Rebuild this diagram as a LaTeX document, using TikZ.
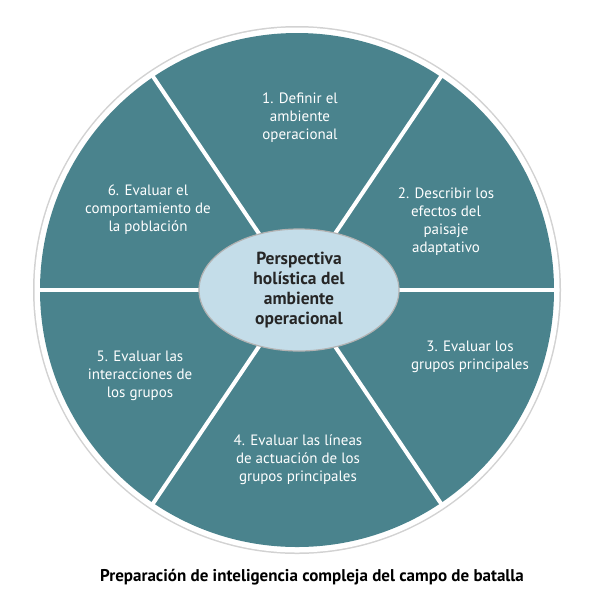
\documentclass[tikz,border=0pt]{standalone}
\usepackage{fontspec}
\setmainfont{PT Sans}
\usetikzlibrary{shapes.geometric}
\definecolor{teal1}{HTML}{4A838D}
\definecolor{lblue}{HTML}{C4DDE9}
\begin{document}
\begin{tikzpicture}[x=1pt,y=-1pt,
  lbl/.style={text=white,align=center,font=\fontsize{15}{18}\selectfont},
  divider/.style={white,line width=4pt}]
\useasboundingbox (0,0) rectangle (612,598);
\coordinate (c) at (297,290);
\fill[gray!35] (c) circle (264);
\fill[white] (c) circle (262.5);
\fill[teal1] (c) circle (257);
\foreach \a in {0,56,124,180,236,304}
  \draw[divider] (c) -- ++(\a:-259);
\node[ellipse,draw=gray!60,line width=1.2pt,fill=lblue,minimum width=200pt,minimum height=122pt,
  align=center,font=\bfseries\fontsize{17.5}{20}\selectfont,text=black!85] (hub) at (299,290)
  {Perspectiva\\holística del\\ambiente\\operacional};
\node[lbl] (s1) at (300,118) {1. Definir el\\ambiente\\operacional};
\node[lbl] (s2) at (446,222) {2. Describir los\\efectos del\\paisaje\\adaptativo};
\node[lbl] (s3) at (470,357) {3. Evaluar los\\grupos principales};
\node[lbl] (s4) at (298,460) {4. Evaluar las líneas\\de actuación de los\\grupos principales};
\node[lbl] (s5) at (140,376) {5. Evaluar las\\interacciones de\\los grupos};
\node[lbl] (s6) at (148,210) {6. Evaluar el\\comportamiento de\\la población};
\node[font=\bfseries\fontsize{17}{20}\selectfont] (cap) at (312,577)
  {Preparación de inteligencia compleja del campo de batalla};
\end{tikzpicture}
\end{document}
